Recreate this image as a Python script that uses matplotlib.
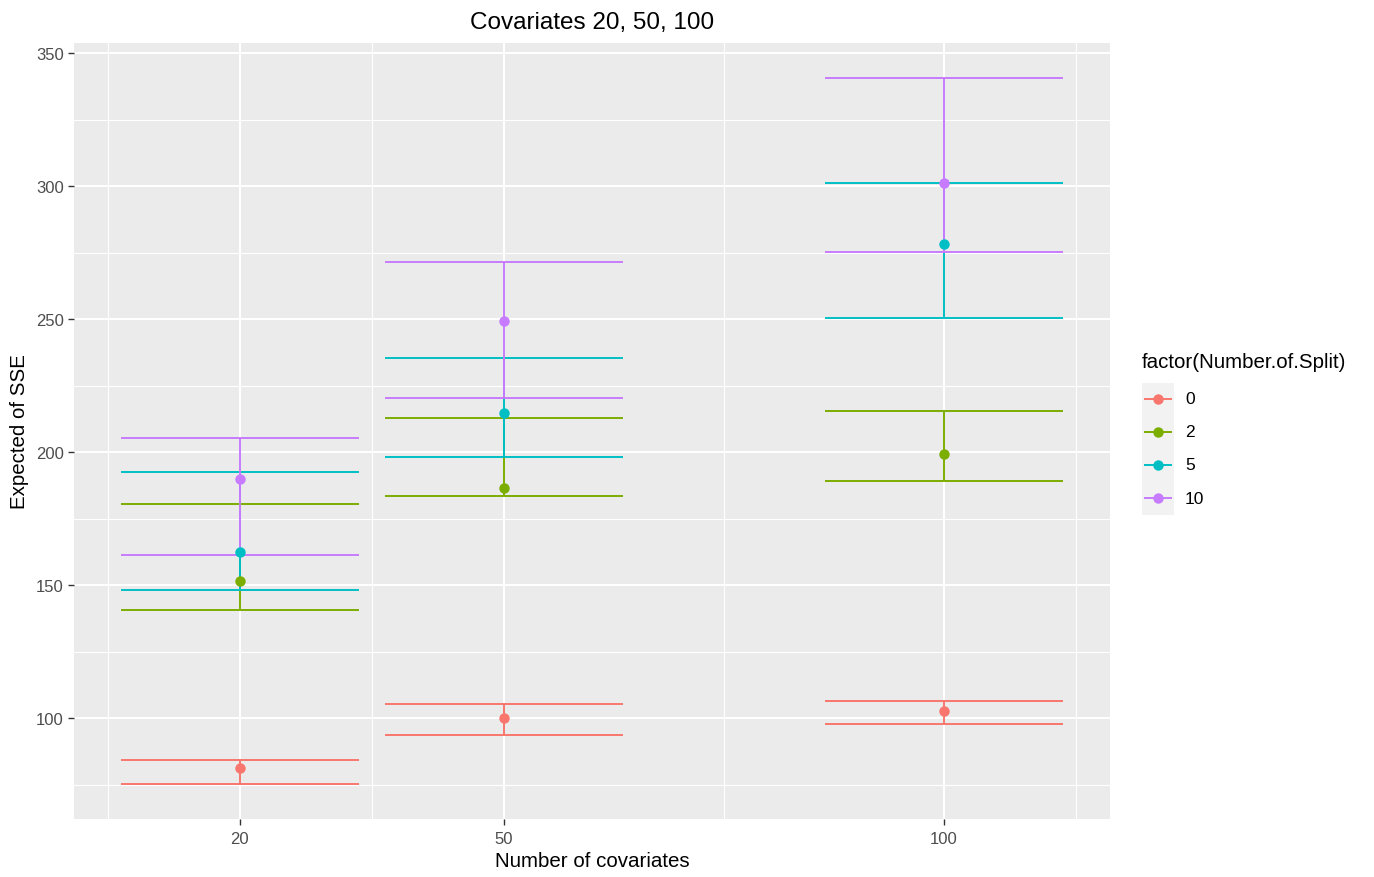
import matplotlib
matplotlib.use("Agg")
import matplotlib.pyplot as plt
from matplotlib.lines import Line2D
from matplotlib.patches import Rectangle

plt.rcParams['font.family'] = ['Liberation Sans', 'DejaVu Sans']

# Number of covariates on the x axis
covariates = [20, 50, 100]
# Number of splits (legend groups)
splits = ["0", "2", "5", "10"]
colors = ["#F8766D", "#7CAE00", "#00BFC4", "#C77CFF"]

# Expected SSE (point) and interval bounds for each split, per covariate count
mean_sse = {
    "0":  [81.3, 100.0, 102.7],
    "2":  [151.5, 186.6, 199.3],
    "5":  [162.4, 214.6, 278.4],
    "10": [189.8, 249.5, 301.3],
}
lower_sse = {
    "0":  [75.4, 93.8, 97.9],
    "2":  [140.8, 183.4, 189.3],
    "5":  [148.4, 198.3, 250.5],
    "10": [161.4, 220.4, 275.2],
}
upper_sse = {
    "0":  [84.5, 105.5, 106.5],
    "2":  [180.6, 212.9, 215.5],
    "5":  [192.5, 235.5, 301.4],
    "10": [205.3, 271.4, 340.6],
}

bar_width = 27  # errorbar cap width in data units

W, H = 1374, 878
fig = plt.figure(figsize=(W / 100, H / 100), dpi=100)
ax = fig.add_axes([74 / W, 1 - 820 / H, (1110 - 74) / W, (820 - 44) / H])
ax.set_facecolor("#EBEBEB")
for s in ax.spines.values():
    s.set_visible(False)

# limits with ggplot-like 5% expansion
all_lo = min(min(v) for v in lower_sse.values())
all_hi = max(max(v) for v in upper_sse.values())
xlo, xhi = min(covariates) - bar_width / 2, max(covariates) + bar_width / 2
xr, yr = xhi - xlo, all_hi - all_lo
ax.set_xlim(xlo - 0.05 * xr, xhi + 0.05 * xr)
ax.set_ylim(all_lo - 0.05 * yr, all_hi + 0.05 * yr)

# grid lines
x_major = covariates
x_minor = [5, 35, 75, 115]
y_major = [100, 150, 200, 250, 300, 350]
y_minor = [75, 125, 175, 225, 275, 325]
for v in x_minor:
    ax.axvline(v, color="white", lw=0.8, zorder=0)
for v in y_minor:
    ax.axhline(v, color="white", lw=0.8, zorder=0)
for v in x_major:
    ax.axvline(v, color="white", lw=1.5, zorder=0)
for v in y_major:
    ax.axhline(v, color="white", lw=1.5, zorder=0)

# error bars and points
for sp, col in zip(splits, colors):
    for i, x in enumerate(covariates):
        lo, hi = lower_sse[sp][i], upper_sse[sp][i]
        ax.vlines(x, lo, hi, color=col, lw=1.4, zorder=2)
        ax.hlines([lo, hi], x - bar_width / 2, x + bar_width / 2, color=col, lw=1.4, zorder=2)
for sp, col in zip(splits, colors):
    ax.plot(covariates, mean_sse[sp], "o", color=col, ms=7.5, mec="none", zorder=3)

ax.set_xticks(x_major)
ax.set_xticklabels([str(v) for v in x_major])
ax.set_yticks(y_major)
ax.tick_params(axis="both", colors="#333333", labelcolor="#4D4D4D",
               labelsize=12, length=4, width=1)
ax.tick_params(axis="x", pad=5)

ax.set_xlabel("Number of covariates", fontsize=14.8, color="black", labelpad=3)
ax.set_ylabel("Expected of SSE", fontsize=14.8, color="black", labelpad=5)
ax.set_title("Covariates 20, 50, 100", fontsize=17.5, color="black", pad=11)

# legend drawn in figure pixel coordinates
def fx(px):
    return px / W

def fy(py):
    return 1 - py / H

fig.text(fx(1142), fy(363), "factor(Number.of.Split)", fontsize=14.8,
         ha="left", va="center", color="black")
key_h = 33
key_top = 383.5
for k, (lab, col) in enumerate(zip(splits, colors)):
    cy = key_top + key_h * (k + 0.5)
    fig.patches.append(Rectangle((fx(1142), fy(key_top + key_h * (k + 1))),
                                 32 / W, key_h / H, transform=fig.transFigure,
                                 facecolor="#F2F2F2", edgecolor="none"))
    fig.lines.append(Line2D([fx(1145), fx(1171)], [fy(cy), fy(cy)],
                            transform=fig.transFigure, color=col, lw=1.4))
    fig.lines.append(Line2D([fx(1158)], [fy(cy)], transform=fig.transFigure,
                            color=col, marker="o", ms=7.5, mec="none", ls="none"))
    fig.text(fx(1185), fy(cy), lab, fontsize=12.5, ha="left", va="center", color="black")

fig.savefig("out.png", dpi=100, facecolor="white")
